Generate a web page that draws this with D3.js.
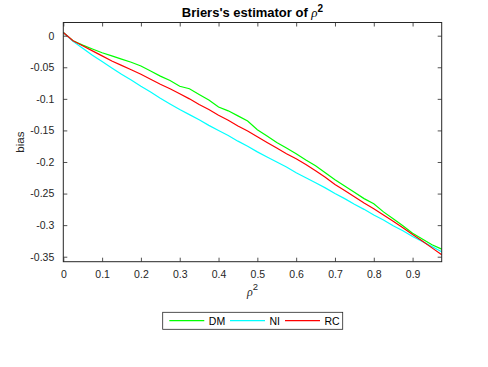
<!DOCTYPE html>
<html><head><meta charset="utf-8">
<script src="https://cdn.jsdelivr.net/npm/d3@7"></script>
<style>body{margin:0;background:#fff}svg{display:block}text{font-family:"Liberation Sans",Arial,Helvetica,sans-serif}</style>
</head><body>
<script>
const xVals = [0,0.025,0.05,0.075,0.1,0.125,0.15,0.175,0.2,0.225,0.25,0.275,0.3,0.325,0.35,0.375,0.4,0.425,0.45,0.475,0.5,0.525,0.55,0.575,0.6,0.625,0.65,0.675,0.7,0.725,0.75,0.775,0.8,0.825,0.85,0.875,0.9,0.925,0.95,0.975];
const dmVals = [0.005,-0.008,-0.015,-0.021,-0.027,-0.032,-0.037,-0.042,-0.048,-0.056,-0.064,-0.071,-0.080,-0.084,-0.093,-0.102,-0.113,-0.119,-0.127,-0.135,-0.149,-0.159,-0.169,-0.178,-0.187,-0.197,-0.206,-0.217,-0.228,-0.238,-0.248,-0.258,-0.266,-0.279,-0.290,-0.301,-0.313,-0.322,-0.331,-0.338];
const niVals = [0.005,-0.009,-0.020,-0.031,-0.041,-0.051,-0.061,-0.070,-0.080,-0.089,-0.099,-0.108,-0.117,-0.125,-0.133,-0.142,-0.150,-0.158,-0.167,-0.175,-0.184,-0.192,-0.200,-0.208,-0.217,-0.225,-0.233,-0.241,-0.250,-0.258,-0.267,-0.275,-0.284,-0.292,-0.301,-0.309,-0.318,-0.326,-0.334,-0.342];
const rcVals = [0.005,-0.008,-0.016,-0.024,-0.032,-0.040,-0.047,-0.054,-0.061,-0.069,-0.077,-0.084,-0.092,-0.100,-0.109,-0.117,-0.126,-0.134,-0.143,-0.151,-0.160,-0.169,-0.178,-0.187,-0.195,-0.204,-0.214,-0.224,-0.2355,-0.245,-0.255,-0.265,-0.274,-0.284,-0.294,-0.304,-0.315,-0.325,-0.336,-0.347];
const seriesNames = ["DM","NI","RC"];
const seriesColors = ["#00ff00","#00ffff","#ff0000"];
const xTicks = [0,0.1,0.2,0.3,0.4,0.5,0.6,0.7,0.8,0.9];
const yTicks = [0,-0.05,-0.1,-0.15,-0.2,-0.25,-0.3,-0.35];

const W=488,H=367;
const L=63.3,R=441.7,T=22.5,B=261.7;
const svg=d3.select("body").append("svg").attr("width",W).attr("height",H);
const x=d3.scaleLinear().domain([0,0.975]).range([L,R]);
const y=d3.scaleLinear().domain([-0.3579,0.0209]).range([B,T]);
const axCol="#262626";

// lines
const allSeries=[dmVals,niVals,rcVals];
const line=d3.line().x((d,i)=>x(xVals[i])).y(d=>y(d));
const g=svg.append("g");
allSeries.forEach((s,k)=>{
  g.append("path").datum(s).attr("d",line).attr("fill","none")
   .attr("stroke",seriesColors[k]).attr("stroke-width",1.2);
});

// axes
const fmt=d=>d===0?"0":String(d);
const xb=svg.append("g").attr("transform",`translate(0,${B})`)
  .call(d3.axisBottom(x).tickValues(xTicks).tickSize(-4).tickPadding(9).tickFormat(fmt));
const xt=svg.append("g").attr("transform",`translate(0,${T})`)
  .call(d3.axisTop(x).tickValues(xTicks).tickSize(-4).tickFormat(""));
const yl=svg.append("g").attr("transform",`translate(${L},0)`)
  .call(d3.axisLeft(y).tickValues(yTicks).tickSize(-4).tickPadding(9).tickFormat(fmt));
const yr=svg.append("g").attr("transform",`translate(${R},0)`)
  .call(d3.axisRight(y).tickValues(yTicks).tickSize(-4).tickFormat(""));
[xb,xt,yl,yr].forEach(a=>{
  a.select(".domain").attr("d",null);
  a.selectAll(".tick line").attr("stroke",axCol).attr("stroke-width",0.8);
  a.selectAll("text").attr("fill",axCol).style("font-size","10.5px").style("font-family",'"Liberation Sans",Arial,sans-serif');
});
svg.append("rect").attr("x",L).attr("y",T).attr("width",R-L).attr("height",B-T)
  .attr("fill","none").attr("stroke",axCol).attr("stroke-width",1);

// title
const title=svg.append("text").attr("x",(L+R)/2).attr("y",17).attr("text-anchor","middle")
  .style("font-size","13px").style("font-weight","bold").attr("fill","#000");
title.append("tspan").text("Briers's estimator of ");
title.append("tspan").text("ρ").style("font-family",'"Liberation Serif","Times New Roman",serif').style("font-style","italic").style("font-weight","normal");
title.append("tspan").text("2").attr("dy",-5).style("font-size","10px");

// x label
const xl=svg.append("text").attr("x",(L+R)/2).attr("y",296).attr("text-anchor","middle")
  .attr("fill",axCol).style("font-size","12px");
xl.append("tspan").text("ρ").style("font-family",'"Liberation Serif","Times New Roman",serif').style("font-style","italic");
xl.append("tspan").text("2").attr("dy",-6).style("font-size","9.5px");

// y label
svg.append("text").attr("transform",`translate(24,${(T+B)/2}) rotate(-90)`).attr("text-anchor","middle")
  .attr("fill",axCol).style("font-size","11.5px").text("bias");

// legend
const lg=svg.append("g");
lg.append("rect").attr("x",162.7).attr("y",312.3).attr("width",180).attr("height",17)
  .attr("fill","#fff").attr("stroke",axCol).attr("stroke-width",0.8);
const legX=[169.3,230,285];
seriesNames.forEach((n,k)=>{
  lg.append("line").attr("x1",legX[k]).attr("x2",legX[k]+35).attr("y1",320.7).attr("y2",320.7)
    .attr("stroke",seriesColors[k]).attr("stroke-width",1.2);
  lg.append("text").attr("x",legX[k]+39.5).attr("y",324.7).attr("fill","#000")
    .style("font-size","10.5px").text(n);
});
</script>
</body></html>
